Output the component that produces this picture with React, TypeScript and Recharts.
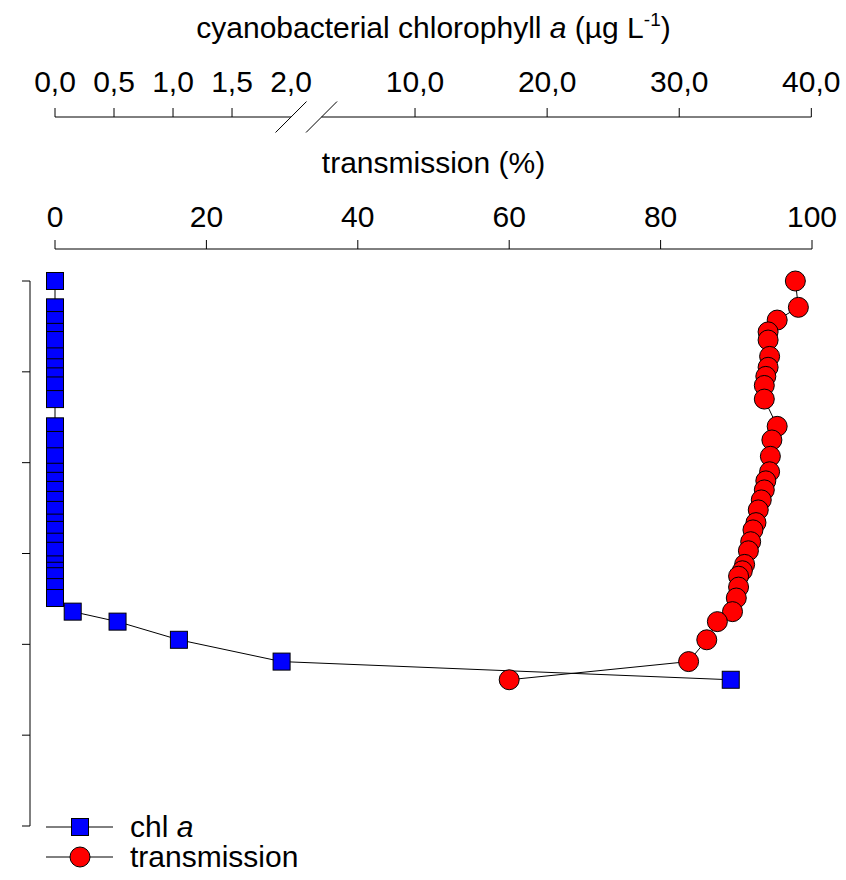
import { ScatterChart, Scatter, XAxis, YAxis, Legend } from 'recharts'

// depth below surface (axis units, 0 at top), shared by both profiles
const DEPTH = [
  0, 0.29, 0.43, 0.56, 0.65, 0.83, 0.95, 1.05, 1.15, 1.3,
  1.6, 1.75, 1.93, 2.1, 2.2, 2.3, 2.41, 2.52, 2.66, 2.74,
  2.87, 2.97, 3.12, 3.19, 3.25, 3.37, 3.49, 3.64, 3.75, 3.95,
  4.19, 4.39,
]
// cyanobacterial chlorophyll a (µg/L)
const CHL = [
  0, 0, 0, 0, 0, 0, 0, 0, 0, 0,
  0, 0, 0, 0, 0, 0, 0, 0, 0, 0,
  0, 0, 0, 0, 0, 0, 0, 0.15, 0.53, 1.05,
  1.92, 33.9,
]
// transmission (%)
const TRANSMISSION = [
  97.8, 98.2, 95.4, 94.2, 94.2, 94.4, 94.2, 93.9, 93.7, 93.7,
  95.4, 94.7, 94.5, 94.4, 93.9, 93.7, 93.3, 92.9, 92.6, 92.2,
  91.9, 91.6, 91.1, 90.8, 90.3, 90.3, 90.0, 89.5, 87.5, 86.1,
  83.7, 60.0,
]

const TRANS_TICKS = [0, 20, 40, 60, 80, 100]
const CHL_TICKS = [0, 0.5, 1, 1.5, 2, 10, 20, 30, 40]
const DEPTH_TICKS = [0, 1, 2, 3, 4, 5, 6]
const SERIES = ['chl a', 'transmission']

const W = 846
const H = 880
const MARGIN = { top: 0, right: 34, bottom: 54, left: 0 }
const PLOT_W = W - 55 - MARGIN.right
const PX = PLOT_W / 100
const GAP = 30.5
const FS = 30
const FONT = '"Liberation Sans", Arial, Helvetica, sans-serif'

// broken chl axis: 0-2 stretched on the left, 10-40 on the right (0-100 units)
function chlToU(c: number) {
  if (c <= 2) return c * 15.59
  return 47.56 + (c - 10) * 1.745
}

const chlData = DEPTH.map((d, i) => ({ x: chlToU(CHL[i]), depth: d }))
const transData = DEPTH.map((d, i) => ({ x: TRANSMISSION[i], depth: d }))

function ChlTick(props: any) {
  const { x, y, index } = props
  const c = CHL_TICKS[index]
  const ly = y + 25
  return (
    <g>
      <text x={x} y={y} textAnchor="middle" fontSize={FS} fill="#000" fontFamily={FONT}>
        {c.toFixed(1).replace('.', ',')}
      </text>
      {c !== 2 && <line x1={x} x2={x} y1={ly - 9} y2={ly} stroke="#000" />}
      {index === 0 && (
        <line x1={x} x2={x + (chlToU(2) - chlToU(0)) * PX} y1={ly} y2={ly} stroke="#000" />
      )}
      {c === 2 && (
        <>
          <line x1={x - 15.5} y1={ly + 15.5} x2={x + 15.5} y2={ly - 15.5} stroke="#000" />
          <line x1={x + GAP - 15.5} y1={ly + 15.5} x2={x + GAP + 15.5} y2={ly - 15.5} stroke="#000" />
          <line x1={x + GAP} x2={x + (chlToU(40) - chlToU(2)) * PX} y1={ly} y2={ly} stroke="#000" />
        </>
      )}
    </g>
  )
}

function ChlTitle(props: any) {
  const vb = props.viewBox ?? { x: 55, y: 0, width: PLOT_W, height: 117 }
  return (
    <text x={vb.x + vb.width / 2} y={vb.y + 38} textAnchor="middle" fontSize={FS} fill="#000" fontFamily={FONT}>
      cyanobacterial chlorophyll <tspan fontStyle="italic">a</tspan> (µg L<tspan dy={-12} fontSize={19}>-1</tspan><tspan dy={12}>)</tspan>
    </text>
  )
}

function TransTitle(props: any) {
  const vb = props.viewBox ?? { x: 55, y: 117, width: PLOT_W, height: 132 }
  return (
    <text x={vb.x + vb.width / 2} y={vb.y + 56} textAnchor="middle" fontSize={FS} fill="#000" fontFamily={FONT}>
      transmission (%)
    </text>
  )
}

function Square(p: any) {
  return <rect x={p.cx - 8.5} y={p.cy - 8.5} width={17} height={17} fill="#0000ff" stroke="#000" strokeWidth={1} />
}

function Dot(p: any) {
  return <circle cx={p.cx} cy={p.cy} r={10} fill="#ff0000" stroke="#000" strokeWidth={1} />
}

function LegendContent(props: any) {
  const items = [...(props.payload ?? [])].sort(
    (a: any, b: any) => SERIES.indexOf(a.value) - SERIES.indexOf(b.value)
  )
  return (
    <div style={{ fontFamily: FONT, fontSize: FS, color: '#000' }}>
      {items.map((it: any) => (
        <div key={it.value} style={{ display: 'flex', alignItems: 'center', height: 30 }}>
          <svg width={68} height={30}>
            <line x1={0} x2={67} y1={15} y2={15} stroke="#000" />
            {it.value === 'chl a'
              ? <rect x={25.5} y={6.5} width={17} height={17} fill="#0000ff" stroke="#000" />
              : <circle cx={34} cy={15} r={10} fill="#ff0000" stroke="#000" />}
          </svg>
          <span style={{ marginLeft: 16, lineHeight: '30px' }}>
            {it.value === 'chl a' ? <>chl <i>a</i></> : it.value}
          </span>
        </div>
      ))}
    </div>
  )
}

// axis ids are stacked alphabetically: "a_" sits next to the plot
export default function App() {
  return (
    <div style={{ position: 'absolute', left: 0, top: 0, fontFamily: FONT }}>
      <ScatterChart width={W} height={H} margin={MARGIN}>
        <XAxis xAxisId="a_gap" orientation="top" height={32} type="number" domain={[0, 100]}
          tick={false} axisLine={false} tickLine={false} />
        <XAxis xAxisId="b_trans" orientation="top" height={132} type="number" dataKey="x"
          domain={[0, 100]} ticks={TRANS_TICKS} interval={0}
          tickSize={9} tickMargin={13} tick={{ fill: '#000', fontSize: FS }}
          axisLine={{ stroke: '#000' }} tickLine={{ stroke: '#000' }} label={TransTitle} />
        <XAxis xAxisId="c_chl" orientation="top" height={117} type="number" dataKey="x"
          domain={[0, 100]} ticks={CHL_TICKS.map(chlToU)} interval={0}
          tickSize={9} tickMargin={16} tick={ChlTick} axisLine={false} tickLine={false} label={ChlTitle} />
        <YAxis yAxisId="a_gap" width={25} type="number" domain={[0, 6]}
          tick={false} axisLine={false} tickLine={false} />
        <YAxis yAxisId="b_depth" width={30} type="number" dataKey="depth" reversed
          domain={[0, 6]} ticks={DEPTH_TICKS} interval={0}
          tickSize={8} tick={() => <g />} axisLine={{ stroke: '#000' }} tickLine={{ stroke: '#000' }} />
        <Scatter name="chl a" data={chlData} xAxisId="c_chl" yAxisId="b_depth" fill="#0000ff"
          line={{ stroke: '#000', strokeWidth: 1 }} shape={Square} isAnimationActive={false} />
        <Scatter name="transmission" data={transData} xAxisId="b_trans" yAxisId="b_depth" fill="#ff0000"
          line={{ stroke: '#000', strokeWidth: 1 }} shape={Dot} isAnimationActive={false} />
        <Legend layout="vertical" align="center" verticalAlign="middle"
          wrapperStyle={{ left: 46, top: 812, width: 'auto' }} content={LegendContent} />
      </ScatterChart>
    </div>
  )
}
